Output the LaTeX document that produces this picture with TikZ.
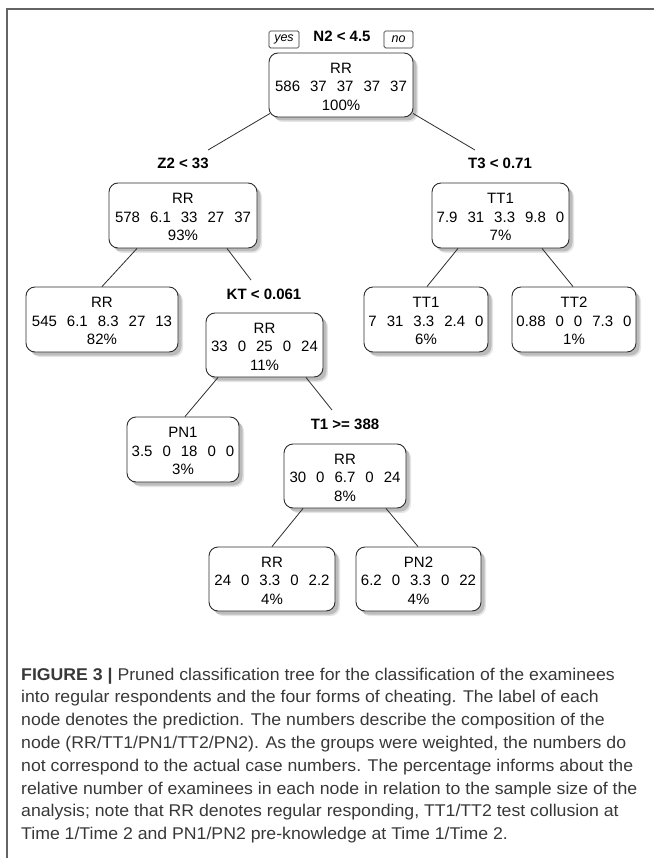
\documentclass[tikz,border=0pt]{standalone}
\usepackage{fontspec}
\setmainfont{Liberation Sans}
\newfontfamily\capfont[FakeStretch=1.04]{Liberation Sans}
\usetikzlibrary{shadows}
\newcommand\gp{\hspace{10pt}}
\newcommand\tstr{\rule{0pt}{13.3pt}}
\definecolor{framegray}{RGB}{100,100,100}
\definecolor{linegray}{RGB}{45,45,45}
\tikzset{
  tnode/.style={draw=linegray, line width=0.9pt, rounded corners=9pt, fill=white,
    align=center, inner sep=0pt, font=\fontsize{15}{18.5}\selectfont,
    drop shadow={shadow xshift=5pt, shadow yshift=-5pt, fill=black, opacity=0.10},
    drop shadow={shadow xshift=3.5pt, shadow yshift=-3.5pt, fill=black, opacity=0.18}},
  split/.style={font=\fontsize{15}{18}\selectfont\bfseries, inner sep=0pt, anchor=base},
  yn/.style={draw=linegray, line width=0.7pt, rounded corners=1.5pt, inner sep=0pt,
    minimum height=17pt, font=\fontsize{12.5}{14}\selectfont\itshape},
  edge/.style={draw=linegray, line width=0.8pt},
  frame/.style={draw=framegray, line width=1.6pt}
}
\begin{document}
\begin{tikzpicture}[x=1pt,y=-1pt]
\useasboundingbox (0,0) rectangle (654,858);
% frame
\coordinate (fa) at (7,9);
\coordinate (fb) at (654,9);
\coordinate (fc) at (8,858);
\draw[frame] (fb) -- (fa) -- (fa |- fc);

% split labels
\node[split] (n2lab) at (342,41.5) {N2 < 4.5};
\node[yn, minimum width=30pt] (yes) at (284,39.5) {yes};
\node[yn, minimum width=29pt] (no) at (398.5,39.5) {no};
\node[split] (z2lab) at (183,169) {Z2 < 33};
\node[split] (t3lab) at (500,169) {T3 < 0.71};
\node[split] (ktlab) at (264,299) {KT < 0.061};
\node[split] (t1lab) at (345,429) {T1 >= 388};

% tree nodes
\node[tnode, minimum width=144pt, minimum height=64pt] (root) at (341,85)
  {\tstr RR\\586\gp37\gp37\gp37\gp37\\100\%};
\node[tnode, minimum width=148pt, minimum height=65pt] (z2n) at (183,215.5)
  {\tstr RR\\578\gp6.1\gp33\gp27\gp37\\93\%};
\node[tnode, minimum width=137pt, minimum height=65pt] (t3n) at (500.5,215.5)
  {\tstr TT1\\7.9\gp31\gp3.3\gp9.8\gp0\\7\%};
\node[tnode, minimum width=152pt, minimum height=65pt] (rra) at (102,319.5)
  {\tstr RR\\545\gp6.1\gp8.3\gp27\gp13\\82\%};
\node[tnode, minimum width=124pt, minimum height=65pt] (tta) at (426,319.5)
  {\tstr TT1\\7\gp31\gp3.3\gp2.4\gp0\\6\%};
\node[tnode, minimum width=124pt, minimum height=65pt] (ttb) at (574,319.5)
  {\tstr TT2\\0.88\gp0\gp0\gp7.3\gp0\\1\%};
\node[tnode, minimum width=117pt, minimum height=64pt] (ktn) at (264.5,345)
  {\tstr RR\\33\gp0\gp25\gp0\gp24\\11\%};
\node[tnode, minimum width=112pt, minimum height=65pt] (pna) at (183,449.5)
  {\tstr PN1\\3.5\gp0\gp18\gp0\gp0\\3\%};
\node[tnode, minimum width=122pt, minimum height=64pt] (t1n) at (345,476)
  {\tstr RR\\30\gp0\gp6.7\gp0\gp24\\8\%};
\node[tnode, minimum width=126pt, minimum height=64pt] (rrb) at (272,579)
  {\tstr RR\\24\gp0\gp3.3\gp0\gp2.2\\4\%};
\node[tnode, minimum width=125pt, minimum height=64pt] (pnb) at (418.5,579)
  {\tstr PN2\\6.2\gp0\gp3.3\gp0\gp22\\4\%};

% edges
\draw[edge] ([xshift=-71pt,yshift=4pt]root.south) -- ([xshift=25pt,yshift=8.3pt]z2lab.north);
\draw[edge] ([xshift=72pt,yshift=4pt]root.south) -- ([xshift=-25pt,yshift=8.3pt]t3lab.north);
\draw[edge] ([xshift=-46pt]z2n.south) -- (rra.north);
\draw[edge] ([xshift=44pt]z2n.south) -- ([xshift=-13pt,yshift=8.3pt]ktlab.north);
\draw[edge] ([xshift=-42.5pt]t3n.south) -- ([xshift=1pt]tta.north);
\draw[edge] ([xshift=41.5pt]t3n.south) -- ([xshift=-1pt]ttb.north);
\draw[edge] ([xshift=-46.5pt]ktn.south) -- ([xshift=2pt]pna.north);
\draw[edge] ([xshift=41.5pt]ktn.south) -- ([xshift=-13pt,yshift=8.3pt]t1lab.north);
\draw[edge] ([xshift=-42pt]t1n.south) -- (rrb.north);
\draw[edge] ([xshift=41pt]t1n.south) -- ([xshift=-0.5pt]pnb.north);

% caption
\node[anchor=north west, inner sep=0pt, align=left, text=black!78,
  font=\capfont\fontsize{17}{22.8}\selectfont] (cap) at (21,667.5)
  {\textbf{FIGURE 3 |} Pruned classification tree for the classification of the examinees\\
   into regular respondents and the four forms of cheating. The label of each\\
   node denotes the prediction. The numbers describe the composition of the\\
   node (RR/TT1/PN1/TT2/PN2). As the groups were weighted, the numbers do\\
   not correspond to the actual case numbers. The percentage informs about the\\
   relative number of examinees in each node in relation to the sample size of the\\
   analysis; note that RR denotes regular responding, TT1/TT2 test collusion at\\
   Time 1/Time 2 and PN1/PN2 pre-knowledge at Time 1/Time 2.};
\end{tikzpicture}
\end{document}
